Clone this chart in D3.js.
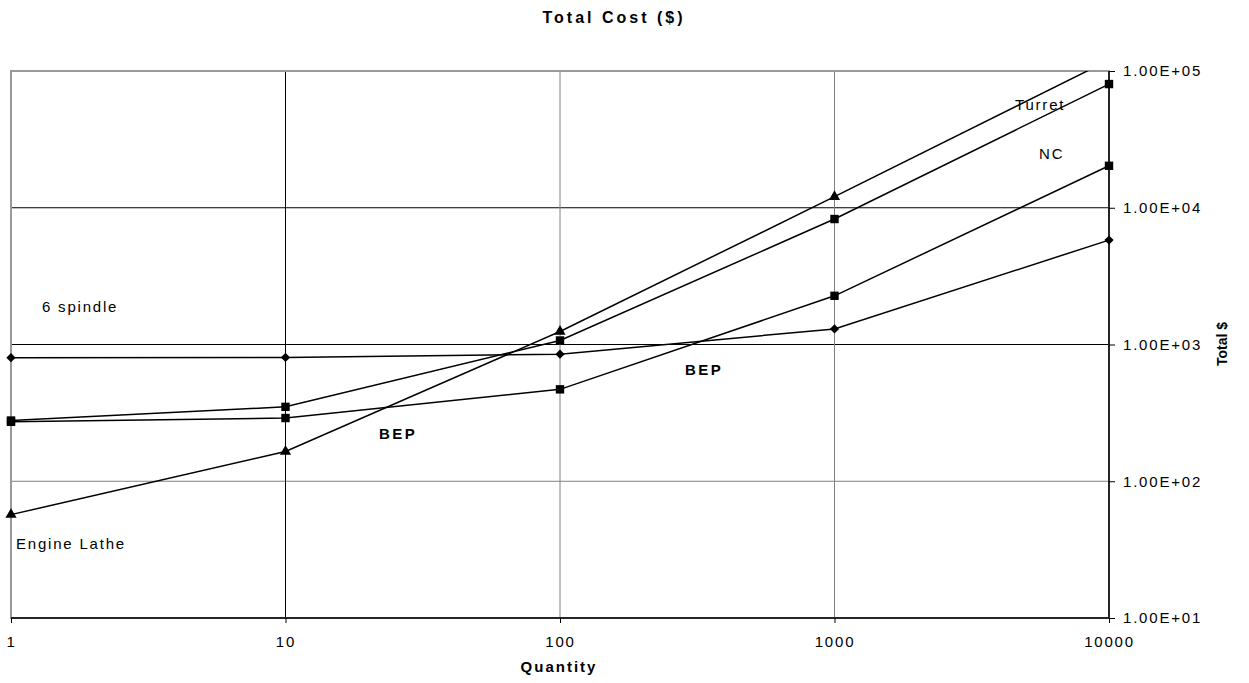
<!DOCTYPE html>
<html>
<head>
<meta charset="utf-8">
<script src="https://cdn.jsdelivr.net/npm/d3@7"></script>
<style>
  body { margin: 0; background: #fff; }
  svg text { font-family: "Liberation Sans", Arial, sans-serif; fill: #000; }
</style>
</head>
<body>
<svg id="chart" width="1249" height="683"></svg>
<script>
// quantities on the x axis
const quantities = [1, 10, 100, 1000, 10000];
const yTicks = [10, 100, 1000, 10000, 100000];

// total cost per process
const spindle6 = [800.5, 805, 850, 1300, 5800];
const ncCost = [272, 290, 470, 2270, 20270];
const turretCost = [278, 350, 1070, 8270, 80270];
const engineLathe = [57, 165, 1245, 12045, 120045];

const seriesList = [
  {name: "6 spindle", values: spindle6, marker: "diamond"},
  {name: "NC", values: ncCost, marker: "square"},
  {name: "Turret", values: turretCost, marker: "square"},
  {name: "Engine Lathe", values: engineLathe, marker: "triangle"}
];

const svg = d3.select("#chart");
const plotL = 11, plotR = 1109, plotT = 71, plotB = 618;

let x = d3.scaleLog().domain([1, 10000]).range([plotL, plotR]);
let y = d3.scaleLog().domain([10, 100000]).range([plotB, plotT]);

// title
svg.append("text")
  .attr("x", 614).attr("y", 23)
  .attr("text-anchor", "middle")
  .style("font-size", "16px").style("font-weight", "bold")
  .style("letter-spacing", "3px")
  .text("Total Cost ($)");

// gridlines
const gridColor = {100: "#808080", 1000: "#000", 10000: "#000"};
svg.append("g").selectAll("line")
  .data([100, 1000, 10000])
  .join("line")
    .attr("x1", plotL).attr("x2", plotR)
    .attr("y1", d => y(d)).attr("y2", d => y(d))
    .attr("stroke", d => gridColor[d]).attr("stroke-width", 1);

svg.append("g").selectAll("line")
  .data([10, 100, 1000])
  .join("line")
    .attr("x1", d => x(d)).attr("x2", d => x(d))
    .attr("y1", plotT).attr("y2", plotB)
    .attr("stroke", d => d === 10 ? "#000" : "#808080").attr("stroke-width", 1);

// plot frame
svg.append("rect")
  .attr("x", plotL).attr("y", plotT)
  .attr("width", plotR - plotL).attr("height", plotB - plotT)
  .attr("fill", "none").attr("stroke", "#999").attr("stroke-width", 2);

// bottom axis
const xAxis = svg.append("g")
  .attr("transform", `translate(0,${plotB})`)
  .call(d3.axisBottom(x).tickValues(quantities).tickFormat(d3.format("d")).tickSize(5).tickPadding(13));
xAxis.select(".domain").attr("stroke", "#000").attr("stroke-width", 1.5).attr("d", `M${plotL},0H${plotR}`);
xAxis.selectAll("text").style("font-size", "15px").style("letter-spacing", "1.8px")
  .style("font-family", "'Liberation Sans', Arial, sans-serif");

// right axis
const yAxis = svg.append("g")
  .attr("transform", `translate(${plotR},0)`)
  .call(d3.axisRight(y).tickValues(yTicks).tickFormat(d => {
    const e = Math.round(Math.log10(d));
    return "1.00E+" + String(e).padStart(2, "0");
  }).tickSize(6).tickPadding(8));
yAxis.select(".domain").attr("stroke", "#000").attr("stroke-width", 1.5).attr("d", `M0,${plotT}V${plotB}`);
yAxis.selectAll("text").style("font-size", "15px").style("letter-spacing", "1.8px")
  .style("font-family", "'Liberation Sans', Arial, sans-serif");

// axis titles
svg.append("text")
  .attr("x", 559).attr("y", 672)
  .attr("text-anchor", "middle")
  .style("font-size", "15px").style("font-weight", "bold").style("letter-spacing", "2px")
  .text("Quantity");

svg.append("text")
  .attr("transform", "translate(1227,344) rotate(-90)")
  .attr("text-anchor", "middle")
  .style("font-size", "14px").style("font-weight", "bold")
  .text("Total $");

// clip to plot area
svg.append("clipPath").attr("id", "plotClip")
  .append("rect").attr("x", plotL - 8).attr("y", plotT).attr("width", plotR - plotL + 16).attr("height", plotB - plotT);

const line = d3.line()
  .x((d, i) => x(quantities[i]))
  .y(d => y(d));

const plot = svg.append("g").attr("clip-path", "url(#plotClip)");

plot.selectAll("path.series")
  .data(seriesList)
  .join("path")
    .attr("class", "series")
    .attr("fill", "none")
    .attr("stroke", "#000")
    .attr("stroke-width", 1.5)
    .attr("d", d => line(d.values));

const symbolType = {diamond: d3.symbolDiamond2, square: d3.symbolSquare2, triangle: d3.symbolTriangle2};
const symbolSize = {diamond: 55, square: 90, triangle: 90};

seriesList.forEach(s => {
  plot.append("g").selectAll("path")
    .data(s.values)
    .join("path")
      .attr("transform", (d, i) => `translate(${x(quantities[i])},${y(d)})`)
      .attr("d", d3.symbol().type(symbolType[s.marker]).size(symbolSize[s.marker]))
      .attr("fill", "#000");
});

// annotations
const notes = [
  {t: "6 spindle", x: 42, y: 312, bold: false},
  {t: "Engine Lathe", x: 16, y: 549, bold: false},
  {t: "Turret", x: 1015, y: 110, bold: false},
  {t: "NC", x: 1039, y: 159, bold: false},
  {t: "BEP", x: 379, y: 439, bold: true},
  {t: "BEP", x: 685, y: 375, bold: true}
];
svg.append("g").selectAll("text")
  .data(notes)
  .join("text")
    .attr("x", d => d.x).attr("y", d => d.y)
    .style("font-size", "15px")
    .style("font-weight", d => d.bold ? "bold" : "normal")
    .style("letter-spacing", d => d.bold ? "2.4px" : "1.8px")
    .text(d => d.t);
</script>
</body>
</html>
